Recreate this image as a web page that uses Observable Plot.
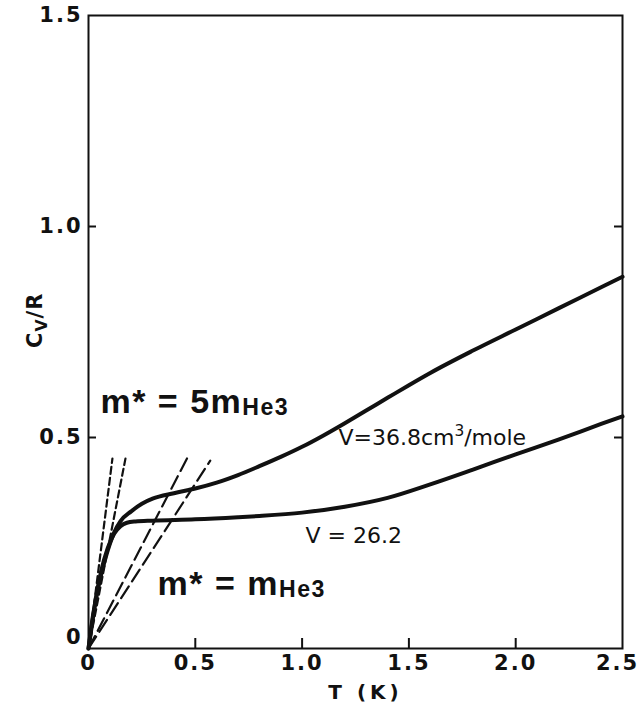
<!DOCTYPE html>
<html>
<head>
<meta charset="utf-8">
<script src="https://cdn.jsdelivr.net/npm/d3@7"></script>
<script src="https://cdn.jsdelivr.net/npm/@observablehq/plot@0.6"></script>
<style>
  html, body { margin: 0; padding: 0; background: #fff; }
  svg { display: block; }
  g[aria-label="x-axis tick label"] text, g[aria-label="y-axis tick label"] text { letter-spacing: 2px; font-weight: bold; }
</style>
</head>
<body>
<div id="chart"></div>
<script>
// ---- data ----
// V = 36.8 cm3/mole
const t368 = [0, 0.02, 0.05, 0.08, 0.1, 0.12, 0.15, 0.2, 0.25, 0.3, 0.4, 0.5, 0.6, 0.7, 0.8, 0.9, 1.0, 1.1, 1.2, 1.3, 1.4, 1.5, 1.6, 1.8, 2.0, 2.2, 2.4, 2.5];
const c368 = [0, 0.075, 0.155, 0.215, 0.248, 0.275, 0.302, 0.325, 0.343, 0.355, 0.368, 0.379, 0.393, 0.411, 0.432, 0.454, 0.478, 0.505, 0.534, 0.564, 0.594, 0.624, 0.653, 0.706, 0.756, 0.806, 0.856, 0.881];
// V = 26.2
const t262 = [0, 0.02, 0.04, 0.06, 0.09, 0.12, 0.15, 0.18, 0.22, 0.3, 0.5, 0.7, 0.8, 1.0, 1.2, 1.4, 1.6, 1.8, 2.0, 2.2, 2.4, 2.5];
const c262 = [0, 0.07, 0.135, 0.185, 0.238, 0.272, 0.29, 0.298, 0.301, 0.303, 0.306, 0.311, 0.314, 0.322, 0.336, 0.357, 0.389, 0.424, 0.46, 0.495, 0.532, 0.55];
// limiting slopes (dashed lines)
const shortDashA_T = [0, 0.112], shortDashA_C = [0, 0.45];
const shortDashB_T = [0, 0.173], shortDashB_C = [0, 0.45];
const longDashA_T = [0, 0.463], longDashA_C = [0, 0.452];
const longDashB_T = [0, 0.57],  longDashB_C = [0, 0.445];
// ticks
const xTicks = [0, 0.5, 1.0, 1.5, 2.0];
const xTickLabels = ["0", "0.5", "1.0", "1.5", "2.0"];
const xLastTick = [2.5];
const xLastTickLabel = "2.5";
const xInnerTicks = [0.5, 1.0, 1.5, 2.0];
const yTicks = [0.5, 1.0, 1.5];
const yTickLabels = ["0.5", "1.0", "1.5"];
const yZeroTick = [0];
const yInnerTicks = [0.5, 1.0];
// annotations
const massLabelT = [0.056, 0.323];
const massLabelC = [0.559, 0.127];
const massLabelText = ["m* = 5mHe3", "m* = mHe3"];
const volLabelT = [1.17, 1.016];
const volLabelC = [0.483, 0.249];
const volLabelText = ["V=36.8cm3/mole", "V = 26.2"];
const xTitle = "T (K)";
const yTitle = "Cv/R";

// ---- tables ----
const zip = (T, C) => T.map((t, i) => ({T: t, C: C[i]}));
const curve368 = zip(t368, c368);
const curve262 = zip(t262, c262);
const massLabels = massLabelT.map((t, i) => ({T: t, C: massLabelC[i], text: massLabelText[i]}));
const volLabels = volLabelT.map((t, i) => ({T: t, C: volLabelC[i], text: volLabelText[i]}));

const W = 642, H = 719, ML = 88, MR = 20, MT = 15, MB = 71;
const plotW = W - ML - MR, plotH = H - MT - MB;
const ink = "#111";

const chart = Plot.plot({
  width: W, height: H,
  marginLeft: ML, marginRight: MR, marginTop: MT, marginBottom: MB,
  style: {fontFamily: "DejaVu Sans", fontSize: "21px", color: ink, background: "#fff"},
  x: {domain: [0, 2.5]},
  y: {domain: [0, 1.5]},
  marks: [
    Plot.frame({stroke: ink, strokeWidth: 2}),
    Plot.axisX(xTicks, {tickSize: 0, tickPadding: 7, tickFormat: d => xTickLabels[xTicks.indexOf(d)], label: null, fontSize: 21}),
    Plot.axisX(xLastTick, {tickSize: 0, tickPadding: 7, tickFormat: () => xLastTickLabel, label: null, fontSize: 21, dx: -5}),
    Plot.axisY(yTicks, {tickSize: 0, tickPadding: 6, tickFormat: d => yTickLabels[yTicks.indexOf(d)], label: null, fontSize: 21}),
    Plot.axisY(yZeroTick, {tickSize: 0, tickPadding: 6, tickFormat: () => "0", label: null, fontSize: 21, dy: -11}),
    Plot.tickX(xInnerTicks, {x: d => d, insetTop: plotH - 10, stroke: ink, strokeWidth: 2}),
    Plot.tickY(yInnerTicks, {y: d => d, insetRight: plotW - 8, stroke: ink, strokeWidth: 2}),
    Plot.tickY(yInnerTicks, {y: d => d, insetLeft: plotW - 8, stroke: ink, strokeWidth: 2}),
    Plot.line(zip(shortDashA_T, shortDashA_C), {x: "T", y: "C", stroke: ink, strokeWidth: 2.2, strokeDasharray: "7,4"}),
    Plot.line(zip(shortDashB_T, shortDashB_C), {x: "T", y: "C", stroke: ink, strokeWidth: 2.2, strokeDasharray: "7,4"}),
    Plot.line(zip(longDashA_T, longDashA_C), {x: "T", y: "C", stroke: ink, strokeWidth: 2.2, strokeDasharray: "14,6"}),
    Plot.line(zip(longDashB_T, longDashB_C), {x: "T", y: "C", stroke: ink, strokeWidth: 2.2, strokeDasharray: "14,6"}),
    Plot.line(curve368, {x: "T", y: "C", curve: "monotone-x", stroke: ink, strokeWidth: 4}),
    Plot.line(curve262, {x: "T", y: "C", curve: "monotone-x", stroke: ink, strokeWidth: 4}),
    Plot.text(massLabels, {x: "T", y: "C", text: "text", textAnchor: "start", lineAnchor: "bottom", fontFamily: "Liberation Sans", fontWeight: "bold", fontSize: 34, fill: ink}),
    Plot.text(volLabels, {x: "T", y: "C", text: "text", textAnchor: "start", lineAnchor: "bottom", fontFamily: "DejaVu Sans", fontSize: 22, fill: ink}),
    Plot.text([xTitle], {text: d => d, frameAnchor: "bottom", dx: 10, dy: 44, lineAnchor: "middle", fontSize: 20, fontWeight: "bold", fill: ink}),
    Plot.text([yTitle], {text: d => d, frameAnchor: "left", rotate: -90, dx: -53, dy: 16, lineAnchor: "middle", fontSize: 21, fontWeight: "bold", fill: ink})
  ]
});

document.getElementById("chart").append(chart);

// rich text: sub/superscripts
d3.select(chart).selectAll("text").each(function() {
  const s = d3.select(this);
  const t = this.textContent;
  if (t.endsWith("He3")) {
    s.text(null).attr("letter-spacing", "1.5px");
    s.append("tspan").text(t.slice(0, -3));
    s.append("tspan").attr("font-size", "0.68em").attr("dy", "0.1em").text("He3");
  } else if (t === "V=36.8cm3/mole") {
    s.text(null);
    s.append("tspan").text("V=36.8cm");
    s.append("tspan").attr("font-size", "0.7em").attr("dy", "-0.55em").text("3");
    s.append("tspan").attr("dy", "0.385em").text("/mole");
  } else if (t === yTitle) {
    s.text(null).attr("letter-spacing", "1px");
    s.append("tspan").text("C");
    s.append("tspan").attr("font-size", "0.75em").attr("dy", "0.3em").text("V");
    s.append("tspan").attr("dy", "-0.225em").text("/R");
  } else if (t === xTitle) {
    s.attr("letter-spacing", "4px");
  }
});
</script>
</body>
</html>
